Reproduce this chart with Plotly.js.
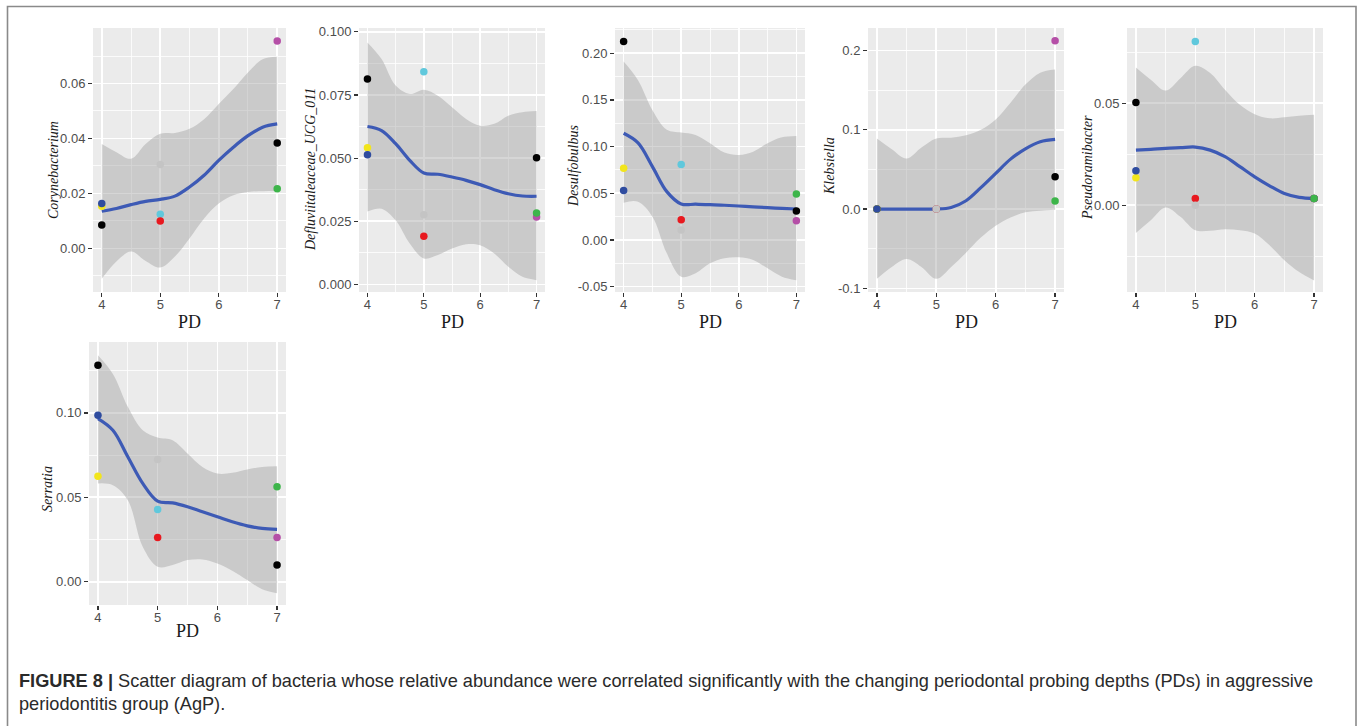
<!DOCTYPE html>
<html>
<head>
<meta charset="utf-8">
<script src="https://cdn.plot.ly/plotly-3.0.1.min.js"></script>
<style>html,body{margin:0;padding:0;background:#fff;}#chart{width:1360px;height:726px;}</style>
</head>
<body>
<div id="chart"></div>
<script>
// ---- data ----
const samplePD = [4, 4, 4, 5, 5, 5, 7, 7, 7];
const sampleColors = ['#000000', '#F2E51C', '#2F4C9F', '#60C8DC', '#E8191F', '#C4C4C4', '#000000', '#B54FA7', '#3DB54A'];

const genera = ['Corynebacterium', 'Defluviitaleaceae_UCG_011', 'Desulfobulbus', 'Klebsiella', 'Pseudoramibacter', 'Serratia'];

// sample abundance, order matches samplePD / sampleColors
const corynebacterium = [0.0085, 0.0153, 0.0163, 0.0124, 0.0099, 0.0305, 0.0383, 0.0755, 0.0217];
const defluviitaleaceae = [0.0813, 0.0541, 0.0513, 0.0842, 0.0191, 0.0276, 0.0501, 0.0267, 0.0283];
const desulfobulbus = [0.2125, 0.0768, 0.0529, 0.0807, 0.0218, 0.0107, 0.0311, 0.0207, 0.0493];
const klebsiella = [0.0, 0.0, 0.0, 0.0, 0.0, 0.0, 0.0408, 0.2122, 0.0101];
const pseudoramibacter = [0.0503, 0.0134, 0.0169, 0.0803, 0.0033, 0.0, 0.0033, 0.0033, 0.0033];
const serratia = [0.1282, 0.0625, 0.0986, 0.0428, 0.0262, 0.0724, 0.0099, 0.0262, 0.0562];

// loess fit read at these PD values
const smoothPD = [4, 4.25, 4.5, 4.75, 5, 5.25, 5.5, 5.75, 6, 6.25, 6.5, 6.75, 7];

const corynebacteriumFit = [0.0135, 0.0145, 0.0159, 0.0171, 0.0178, 0.0190, 0.0223, 0.0266, 0.0320, 0.0368, 0.0410, 0.0441, 0.0453];
const corynebacteriumHi  = [0.0380, 0.0350, 0.0326, 0.0380, 0.0417, 0.0420, 0.0435, 0.0470, 0.0525, 0.0580, 0.0640, 0.0688, 0.0697];
const corynebacteriumLo  = [-0.0111, -0.0048, -0.0012, -0.0046, -0.0070, -0.0030, 0.0036, 0.0109, 0.0163, 0.0193, 0.0205, 0.0208, 0.0208];

const defluviitaleaceaeFit = [0.0625, 0.0609, 0.0557, 0.0491, 0.0441, 0.0436, 0.0425, 0.0412, 0.0395, 0.0375, 0.0359, 0.0350, 0.0349];
const defluviitaleaceaeHi  = [0.0958, 0.0892, 0.0787, 0.0754, 0.0771, 0.0747, 0.0701, 0.0655, 0.0628, 0.0636, 0.0668, 0.0682, 0.0686];
const defluviitaleaceaeLo  = [0.0289, 0.0300, 0.0254, 0.0162, 0.0103, 0.0116, 0.0142, 0.0159, 0.0155, 0.0122, 0.0070, 0.0030, 0.0017];

const desulfobulbusFit = [0.1143, 0.1040, 0.0786, 0.0518, 0.0386, 0.0383, 0.0379, 0.0372, 0.0364, 0.0355, 0.0346, 0.0339, 0.0332];
const desulfobulbusHi  = [0.1910, 0.1710, 0.1390, 0.1180, 0.1150, 0.1125, 0.1036, 0.0936, 0.0910, 0.0946, 0.1036, 0.1100, 0.1114];
const desulfobulbusLo  = [0.0400, 0.0410, 0.0250, -0.0143, -0.0393, -0.0357, -0.0250, -0.0196, -0.0186, -0.0214, -0.0304, -0.0393, -0.0430];

const klebsiellaFit = [0.0, 0.0, 0.0, 0.0, 0.0, 0.0020, 0.0105, 0.0270, 0.0450, 0.0630, 0.0760, 0.0850, 0.0880];
const klebsiellaHi  = [0.0890, 0.0755, 0.0637, 0.0776, 0.0890, 0.0900, 0.0930, 0.1000, 0.1130, 0.1340, 0.1570, 0.1720, 0.1760];
const klebsiellaLo  = [-0.0880, -0.0730, -0.0630, -0.0730, -0.0880, -0.0730, -0.0550, -0.0360, -0.0210, -0.0105, -0.0040, -0.0020, -0.0010];

const pseudoramibacterFit = [0.0270, 0.0274, 0.0279, 0.0282, 0.0285, 0.0270, 0.0238, 0.0189, 0.0139, 0.0095, 0.0057, 0.0038, 0.0033];
const pseudoramibacterHi  = [0.0675, 0.0615, 0.0562, 0.0623, 0.0684, 0.0648, 0.0566, 0.0492, 0.0446, 0.0426, 0.0431, 0.0439, 0.0443];
const pseudoramibacterLo  = [-0.0136, -0.0074, -0.0011, -0.0057, -0.0123, -0.0126, -0.0118, -0.0123, -0.0139, -0.0197, -0.0270, -0.0328, -0.0369];

const serratiaFit = [0.0966, 0.0897, 0.0740, 0.0582, 0.0477, 0.0467, 0.0444, 0.0414, 0.0385, 0.0355, 0.0331, 0.0316, 0.0310];
const serratiaHi  = [0.1341, 0.1230, 0.1036, 0.0897, 0.0854, 0.0838, 0.0760, 0.0680, 0.0641, 0.0645, 0.0665, 0.0680, 0.0684];
const serratiaLo  = [0.0582, 0.0572, 0.0483, 0.0207, 0.0089, 0.0099, 0.0128, 0.0132, 0.0108, 0.0065, 0.0010, -0.0045, -0.0069];

// tick labels
const pdTicks = [4, 5, 6, 7];
const pdTickText = ['4', '5', '6', '7'];
const coryTicks = [0, 0.02, 0.04, 0.06];
const coryTickText = ['0.00', '0.02', '0.04', '0.06'];
const deflTicks = [0, 0.025, 0.05, 0.075, 0.1];
const deflTickText = ['0.000', '0.025', '0.050', '0.075', '0.100'];
const desuTicks = [-0.05, 0, 0.05, 0.1, 0.15, 0.2];
const desuTickText = ['-0.05', '0.00', '0.05', '0.10', '0.15', '0.20'];
const klebTicks = [-0.1, 0, 0.1, 0.2];
const klebTickText = ['-0.1', '0.0', '0.1', '0.2'];
const pseuTicks = [0, 0.05];
const pseuTickText = ['0.00', '0.05'];
const serrTicks = [0, 0.05, 0.1];
const serrTickText = ['0.00', '0.05', '0.10'];

const xLabel = 'PD';
const captionBold = 'FIGURE 8 |';
const captionLine1 = ' Scatter diagram of bacteria whose relative abundance were correlated significantly with the changing periodontal probing depths (PDs) in aggressive';
const captionLine2 = 'periodontitis group (AgP).';

// ---- layout geometry (pixels) ----
const W = 1360, H = 726;
const panels = [
  {vals: corynebacterium, fit: corynebacteriumFit, hi: corynebacteriumHi, lo: corynebacteriumLo, ticks: coryTicks, tt: coryTickText, minor: 0.01,
   px: [93, 286], py: [28, 292], yr: [-0.0159, 0.0802], titleX: 53, titleY: 170, pdY: 322},
  {vals: defluviitaleaceae, fit: defluviitaleaceaeFit, hi: defluviitaleaceaeHi, lo: defluviitaleaceaeLo, ticks: deflTicks, tt: deflTickText, minor: 0.0125,
   px: [359, 545], py: [28, 292], yr: [-0.0030, 0.1015], titleX: 310, titleY: 170, pdY: 322},
  {vals: desulfobulbus, fit: desulfobulbusFit, hi: desulfobulbusHi, lo: desulfobulbusLo, ticks: desuTicks, tt: desuTickText, minor: 0.025,
   px: [615, 805], py: [28, 292], yr: [-0.0557, 0.2270], titleX: 574, titleY: 166, pdY: 322},
  {vals: klebsiella, fit: klebsiellaFit, hi: klebsiellaHi, lo: klebsiellaLo, ticks: klebTicks, tt: klebTickText, minor: 0.05,
   px: [868, 1064], py: [28, 292], yr: [-0.1046, 0.2284], titleX: 830, titleY: 166, pdY: 322},
  {vals: pseudoramibacter, fit: pseudoramibacterFit, hi: pseudoramibacterHi, lo: pseudoramibacterLo, ticks: pseuTicks, tt: pseuTickText, minor: 0.025,
   px: [1127, 1323], py: [28, 292], yr: [-0.0426, 0.0869], titleX: 1087, titleY: 168, pdY: 322},
  {vals: serratia, fit: serratiaFit, hi: serratiaHi, lo: serratiaLo, ticks: serrTicks, tt: serrTickText, minor: 0.025,
   px: [89, 286], py: [342, 605], yr: [-0.0138, 0.1420], titleX: 47, titleY: 489, pdY: 631}
];

const traces = [];
const layout = {
  width: W, height: H,
  margin: {l: 0, r: 0, t: 0, b: 0},
  paper_bgcolor: '#ffffff',
  plot_bgcolor: '#EBEBEB',
  showlegend: false,
  annotations: [],
  shapes: []
};

const tickFont = {family: 'Liberation Sans, Arial, sans-serif', size: 13, color: '#4D4D4D'};
const bandFill = 'rgba(153,153,153,0.4)';
const lineColor = '#3D5AB5';

panels.forEach((p, i) => {
  const n = i + 1;
  const xa = 'x' + (n === 1 ? '' : n), ya = 'y' + (n === 1 ? '' : n);
  const xKey = 'xaxis' + (n === 1 ? '' : n), yKey = 'yaxis' + (n === 1 ? '' : n);
  layout[xKey] = {
    domain: [p.px[0] / W, p.px[1] / W], anchor: ya, range: [3.85, 7.15],
    tickmode: 'array', tickvals: pdTicks, ticktext: pdTickText,
    showgrid: true, gridcolor: '#ffffff', gridwidth: 1.6, zeroline: false, showline: false,
    ticks: 'outside', ticklen: 4, tickwidth: 1.2, tickcolor: '#333333', tickfont: tickFont,
    ticklabelstandoff: -4,
    minor: {tickmode: 'linear', tick0: 4.5, dtick: 1, showgrid: true, gridcolor: '#ffffff', gridwidth: 0.8},
    fixedrange: true
  };
  layout[yKey] = {
    domain: [1 - p.py[1] / H, 1 - p.py[0] / H], anchor: xa, range: p.yr,
    tickmode: 'array', tickvals: p.ticks, ticktext: p.tt,
    showgrid: true, gridcolor: '#ffffff', gridwidth: 1.6, zeroline: false, showline: false,
    ticks: 'outside', ticklen: 4, tickwidth: 1.2, tickcolor: '#333333', tickfont: tickFont,
    minor: {tickmode: 'linear', tick0: 0, dtick: p.minor, showgrid: true, gridcolor: '#ffffff', gridwidth: 0.8},
    fixedrange: true
  };
  // CI band
  traces.push({x: smoothPD, y: p.lo, xaxis: xa, yaxis: ya, mode: 'lines', line: {width: 0, shape: 'spline'}, hoverinfo: 'skip'});
  traces.push({x: smoothPD, y: p.hi, xaxis: xa, yaxis: ya, mode: 'lines', line: {width: 0, shape: 'spline'}, fill: 'tonexty', fillcolor: bandFill, hoverinfo: 'skip'});
  // smooth line
  traces.push({x: smoothPD, y: p.fit, xaxis: xa, yaxis: ya, mode: 'lines', line: {width: 3.2, color: lineColor, shape: 'spline'}});
  // points
  traces.push({x: samplePD, y: p.vals, xaxis: xa, yaxis: ya, mode: 'markers', marker: {size: 7.5, color: sampleColors}});

  // y title
  layout.annotations.push({
    xref: 'paper', yref: 'paper', x: p.titleX / W, y: 1 - p.titleY / H, xanchor: 'center', yanchor: 'middle',
    text: '<i>' + genera[i] + '</i>', textangle: -90, showarrow: false,
    font: {family: 'Liberation Serif, Times New Roman, serif', size: 14, color: '#1a1a1a'}
  });
  // x title
  layout.annotations.push({
    xref: 'paper', yref: 'paper', x: (p.px[0] + p.px[1]) / 2 / W, y: 1 - p.pdY / H, xanchor: 'center', yanchor: 'middle',
    text: xLabel, showarrow: false,
    font: {family: 'Liberation Serif, Times New Roman, serif', size: 18, color: '#1a1a1a'}
  });
});

// caption
layout.annotations.push({
  xref: 'paper', yref: 'paper', x: 17 / W, y: 1 - 681 / H, xanchor: 'left', yanchor: 'middle', align: 'left',
  text: '<b>' + captionBold + '</b>' + captionLine1, showarrow: false,
  font: {family: 'Liberation Sans, Arial, sans-serif', size: 18.2, color: '#2a2a2a'}
});
layout.annotations.push({
  xref: 'paper', yref: 'paper', x: 17 / W, y: 1 - 704 / H, xanchor: 'left', yanchor: 'middle', align: 'left',
  text: captionLine2, showarrow: false,
  font: {family: 'Liberation Sans, Arial, sans-serif', size: 18.2, color: '#2a2a2a'}
});

// figure frame
layout.shapes.push({
  type: 'rect', xref: 'paper', yref: 'paper',
  x0: 7.5 / W, x1: 1356 / W, y0: 1 - 6.5 / H, y1: -0.05,
  line: {color: '#8a8a8a', width: 1.6}, fillcolor: 'rgba(0,0,0,0)', layer: 'above'
});

Plotly.newPlot('chart', traces, layout, {displayModeBar: false, staticPlot: true});
</script>
</body>
</html>
